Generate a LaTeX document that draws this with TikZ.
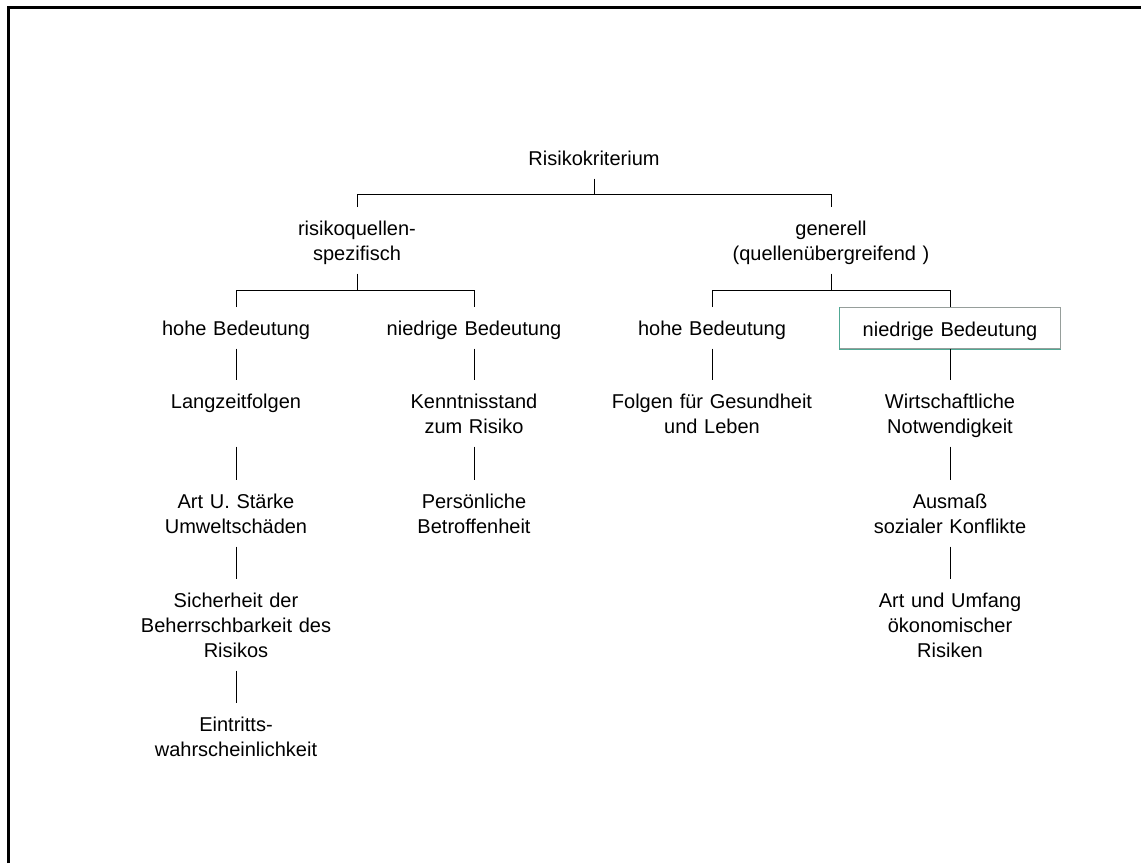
\documentclass[tikz,border=0pt]{standalone}
\usepackage{fontspec}
\setmainfont{Liberation Sans}
\newcommand{\critup}{\rule{0pt}{15.4pt}}
\newcommand{\critdown}{\rule[-3.4pt]{0pt}{3.4pt}}
\tikzset{
  crit/.style={
    align=center,
    text width=180pt,
    anchor=north,
    inner xsep=3pt,
    inner ysep=6pt,
    font=\fontsize{15}{18.75}\selectfont,
    execute at begin node=\critup,
    execute at end node=\critdown
  },
  crit-box/.style={
    crit,
    text width=159.75pt,
    draw=boxgray,
    line width=0.75pt
  },
  branch/.style={line width=0.75pt, draw=black},
  frame-line/.style={line width=2.25pt, draw=black}
}
\definecolor{boxgray}{RGB}{150,158,155}
\definecolor{boxteal}{RGB}{80,168,148}

\begin{document}
\begin{tikzpicture}[x=0.75pt, y=-0.75pt]
  \useasboundingbox (0,0) rectangle (1141,863);
  % frame, only top and left edge
  \draw[frame-line] (8.5,863) -- (8.5,7.5) -- (1141,7.5);
  % root and first split
  \node[crit] (root) at (594,137) {Risikokriterium};
  \node[crit] (quell) at (357,207) {risikoquellen-\\spezifisch};
  \node[crit] (gen) at (831,207) {generell\\(quellenübergreifend )};
  % second split
  \node[crit] (q-high) at (236,307) {hohe Bedeutung};
  \node[crit] (q-low) at (474,307) {niedrige Bedeutung};
  \node[crit] (g-high) at (712,307) {hohe Bedeutung};
  \node[crit-box] (g-low) at (950,307) {niedrige Bedeutung};
  \draw[boxteal, line width=0.75pt] (g-low.north west) -- (g-low.south west) -- (g-low.south east);
  % left chain
  \node[crit] (lzf) at (236,380) {Langzeitfolgen\\ };
  \node[crit] (umw) at (236,480) {Art U. Stärke\\Umweltschäden};
  \node[crit] (sich) at (236,579) {Sicherheit der\\Beherrschbarkeit des\\Risikos};
  \node[crit] (eintr) at (236,703) {Eintritts-\\wahrscheinlichkeit};
  % second chain
  \node[crit] (kennt) at (474,380) {Kenntnisstand\\zum Risiko};
  \node[crit] (pers) at (474,480) {Persönliche\\Betroffenheit};
  % third chain
  \node[crit] (ges) at (712,380) {Folgen für Gesundheit\\und Leben};
  % right chain
  \node[crit] (wirt) at (950,380) {Wirtschaftliche\\Notwendigkeit};
  \node[crit] (konf) at (950,480) {Ausmaß\\sozialer Konflikte};
  \node[crit] (oek) at (950,579) {Art und Umfang\\ökonomischer\\Risiken};

  % tree lines
  \draw[branch] (root.south) -- ++(0,16) coordinate (b0);
  \draw[branch] (quell.north) |- (b0) -| (gen.north);
  \draw[branch] (quell.south) -- ++(0,17) coordinate (b1);
  \draw[branch] (q-high.north) |- (b1) -| (q-low.north);
  \draw[branch] (gen.south) -- ++(0,17) coordinate (b2);
  \draw[branch] (g-high.north) |- (b2) -| (g-low.north);
  \draw[branch] (q-high.south) -- (lzf.north);
  \draw[branch] (lzf.south) -- (umw.north);
  \draw[branch] (umw.south) -- (sich.north);
  \draw[branch] (sich.south) -- (eintr.north);
  \draw[branch] (q-low.south) -- (kennt.north);
  \draw[branch] (kennt.south) -- (pers.north);
  \draw[branch] (g-high.south) -- (ges.north);
  \draw[branch] (g-low.south) -- (wirt.north);
  \draw[branch] (wirt.south) -- (konf.north);
  \draw[branch] (konf.south) -- (oek.north);
\end{tikzpicture}
\end{document}
